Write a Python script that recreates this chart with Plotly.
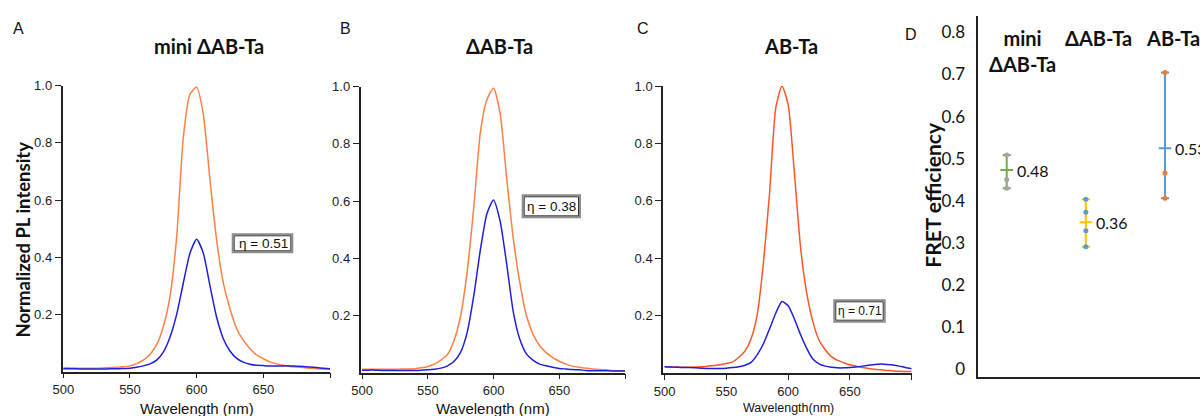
import plotly.graph_objects as go

# ---------------- data ----------------
WAVELENGTH = [500, 505, 510, 515, 520, 525, 530, 535, 540, 545,
              550, 555, 560, 565, 570, 575, 580, 585, 590, 595,
              600, 605, 610, 615, 620, 625, 630, 635, 640, 645,
              650, 655, 660, 665, 670, 675, 680, 685, 690, 695, 700]

A_orange = [.013, .013, .012, .012, .012, .012, .013, .014, .015, .017,
            .020, .028, .040, .060, .095, .157, .262, .470, .820, .970,
            .995, .900, .670, .460, .310, .220, .150, .110, .080, .058,
            .045, .034, .027, .022, .018, .016, .014, .012, .010, .009, .008]
A_blue = [.010, .010, .010, .009, .009, .009, .009, .010, .010, .011,
          .012, .015, .020, .027, .040, .068, .120, .200, .310, .414,
          .463, .414, .300, .190, .115, .072, .046, .033, .026, .022,
          .021, .020, .020, .020, .020, .019, .018, .016, .014, .012, .010]

B_orange = [.012, .012, .012, .012, .012, .012, .013, .013, .014, .017,
            .022, .030, .044, .064, .113, .200, .355, .580, .840, .955,
            .995, .907, .680, .470, .315, .200, .135, .095, .070, .053,
            .040, .030, .023, .019, .016, .013, .011, .010, .008, .007, .006]
B_blue = [.009, .009, .009, .008, .008, .008, .008, .008, .008, .009,
          .010, .012, .016, .024, .040, .072, .142, .270, .430, .557,
          .604, .530, .380, .213, .117, .066, .044, .030, .024, .019,
          .015, .013, .011, .010, .008, .007, .007, .007, .006, .006, .006]

C_orange = [.023, .022, .022, .021, .021, .022, .023, .025, .027, .030,
            .034, .040, .055, .077, .120, .205, .385, .630, .925, 1.00,
            .935, .700, .440, .280, .180, .115, .082, .058, .045, .037,
            .030, .025, .020, .017, .014, .012, .010, .008, .007, .006, .006]
C_blue = [.023, .022, .021, .020, .020, .019, .018, .017, .017, .017,
          .018, .020, .023, .028, .038, .065, .103, .155, .210, .250,
          .235, .190, .135, .087, .050, .033, .025, .021, .019, .019,
          .020, .022, .025, .028, .031, .032, .031, .029, .025, .020, .016]

PANEL_TITLES = ["mini ΔAB-Ta", "ΔAB-Ta", "AB-Ta"]
ETA_LABELS = ["η = 0.51", "η = 0.38", "η = 0.71"]
X_TICKS = [500, 550, 600, 650, 700]
X_TICK_TEXT = ["500", "550", "600", "650", ""]
Y_TICKS = [0.2, 0.4, 0.6, 0.8, 1.0]
Y_TICK_TEXT = ["0.2", "0.4", "0.6", "0.8", "1.0"]

FRET_CATEGORIES = ["mini ΔAB-Ta", "ΔAB-Ta", "AB-Ta"]
FRET_HEADERS = ["mini<br>ΔAB-Ta", "ΔAB-Ta", "AB-Ta"]
FRET_MEAN = [0.473, 0.349, 0.525]
FRET_MEAN_TEXT = ["0.48", "0.36", "0.53"]
FRET_POINTS = [[0.509, 0.451, 0.430],
               [0.404, 0.373, 0.329, 0.291],
               [0.705, 0.466, 0.406]]
FRET_TICKS = [0, 0.1, 0.2, 0.3, 0.4, 0.5, 0.6, 0.7, 0.8]
FRET_TICK_TEXT = ["0", "0.1", "0.2", "0.3", "0.4", "0.5", "0.6", "0.7", "0.8"]

# ---------------- styles ----------------
W, H = 1200, 416
ORANGE = ["#FF7F45", "#FF7F45", "#FF5522"]
BLUE = "#1E1EDC"
BAR_COLORS = ["#70AD47", "#FFC000", "#5B9BD5"]
POINT_COLORS = ["#A5A5A5", "#5B9BD5", "#ED7D31"]
CAL = "Lato, 'Open Sans', sans-serif"
ARIAL = "'Liberation Sans', Arial, sans-serif"


def fx(p):
    return p / W


def fy(p):
    return 1 - p / H


fig = go.Figure()

spectra = [(A_orange, A_blue), (B_orange, B_blue), (C_orange, C_blue)]
for i, (orng, blu) in enumerate(spectra):
    ax = "" if i == 0 else str(i + 1)
    fig.add_trace(go.Scatter(x=WAVELENGTH, y=orng, mode="lines",
                             line=dict(color=ORANGE[i], width=1.5, shape="spline", smoothing=0.6),
                             xaxis="x" + ax, yaxis="y" + ax, showlegend=False))
    fig.add_trace(go.Scatter(x=WAVELENGTH, y=blu, mode="lines",
                             line=dict(color=BLUE, width=1.5, shape="spline", smoothing=0.6),
                             xaxis="x" + ax, yaxis="y" + ax, showlegend=False))

# panel D: range bars + mean ticks + individual points
for i, cat in enumerate(FRET_CATEGORIES):
    pts = FRET_POINTS[i]
    m = FRET_MEAN[i]
    fig.add_trace(go.Scatter(
        x=[cat], y=[m], mode="markers",
        marker=dict(symbol="line-ew", size=9, line=dict(color=BAR_COLORS[i], width=2)),
        error_y=dict(type="data", symmetric=False, array=[max(pts) - m],
                     arrayminus=[m - min(pts)], color=BAR_COLORS[i], thickness=2, width=4),
        xaxis="x4", yaxis="y4", showlegend=False))
    fig.add_trace(go.Scatter(
        x=[cat] * len(pts), y=pts, mode="markers",
        marker=dict(symbol="circle", size=5, color=POINT_COLORS[i]),
        xaxis="x4", yaxis="y4", showlegend=False))

axis_common = dict(showgrid=False, zeroline=False, showline=True, linecolor="#222",
                   linewidth=1.5, ticks="outside", tickcolor="#222", tickwidth=1,
                   automargin=False,
                   tickfont=dict(family=ARIAL, size=13, color="#222"))

x_domains = [(62.5, 330), (360.5, 625), (663, 911.7)]
x_ranges = [(499.4, 700), (498.8, 700), (498.7, 700)]
y_bottoms = [371.6, 372.7, 373.3]
y_tops = [85.7, 86.7, 86.0]

layout = dict(template="none", width=W, height=H, margin=dict(l=0, r=0, t=0, b=0, pad=0),
              paper_bgcolor="white", plot_bgcolor="white", showlegend=False)

for i in range(3):
    ax = "" if i == 0 else str(i + 1)
    layout["xaxis" + ax] = dict(axis_common, domain=[fx(x_domains[i][0]), fx(x_domains[i][1])],
                                range=list(x_ranges[i]), tickvals=X_TICKS, ticktext=X_TICK_TEXT,
                                ticklen=5, anchor="y" + ax)
    layout["yaxis" + ax] = dict(axis_common, domain=[fy(y_bottoms[i]), fy(y_tops[i])],
                                range=[0, 1.0], tickvals=Y_TICKS, ticktext=Y_TICK_TEXT,
                                ticklen=6, anchor="x" + ax)

# panel D axes
d_left, d_right = 978.3, 1200
d_step = 79.15
d_first = 1006.7
layout["xaxis4"] = dict(domain=[fx(d_left), 1.0], type="category",
                        categoryorder="array", categoryarray=FRET_CATEGORIES,
                        range=[-(d_first - d_left) / d_step, (d_right - d_first) / d_step],
                        showgrid=False, zeroline=False, showline=True, linecolor="#222",
                        linewidth=1.5, showticklabels=False, ticks="", automargin=False,
                        anchor="y4")
layout["yaxis4"] = dict(domain=[fy(376.7), fy(16)],
                        range=[-0.0176, 0.839], tickvals=FRET_TICKS, ticktext=FRET_TICK_TEXT,
                        showgrid=False, zeroline=False, showline=True, linecolor="#222",
                        linewidth=1.5, ticks="", ticklabelstandoff=8, automargin=False,
                        tickfont=dict(family=CAL, size=17, color="#111"), anchor="x4")

fig.update_layout(**layout)

ann = []
shapes = []
# panel letters
for letter, x, y in [("A", 18.8, 28.3), ("B", 345.3, 28.3), ("C", 642.5, 28.3), ("D", 910.5, 34.3)]:
    ann.append(dict(text=letter, x=fx(x), y=fy(y), xref="paper", yref="paper",
                    showarrow=False, xanchor="center", yanchor="middle",
                    font=dict(family=ARIAL, size=16, color="#111")))
# panel titles
for t, x in zip(PANEL_TITLES, [209, 499.5, 790.7]):
    ann.append(dict(text="<b>" + t + "</b>", x=fx(x), y=fy(46), xref="paper", yref="paper",
                    showarrow=False, xanchor="center", yanchor="middle",
                    font=dict(family=CAL, size=20, color="#111")))
# eta boxes (double frame: grey outer, dark inner)
eta_boxes = [(231.7, 293.3, 233.3, 253.3), (521.7, 581.0, 194.3, 218.3), (833.3, 885.7, 299.3, 322.7)]
for t, (x0, x1, y0, y1), sz in zip(ETA_LABELS, eta_boxes, [13.5, 13.5, 12]):
    shapes.append(dict(type="rect", xref="paper", yref="paper",
                       x0=fx(x0 + 1), x1=fx(x1 - 1), y0=fy(y1 - 1), y1=fy(y0 + 1),
                       line=dict(color="#8C8C8C", width=2), fillcolor="white"))
    shapes.append(dict(type="rect", xref="paper", yref="paper",
                       x0=fx(x0 + 2.5), x1=fx(x1 - 2.5), y0=fy(y1 - 2.5), y1=fy(y0 + 2.5),
                       line=dict(color="#333", width=1)))
    ann.append(dict(text=t, x=fx((x0 + x1) / 2 + 0.5), y=fy((y0 + y1) / 2), xref="paper", yref="paper",
                    showarrow=False, xanchor="center", yanchor="middle",
                    font=dict(family=ARIAL, size=sz, color="#111")))
# x-axis titles
for t, x, sz in [("Wavelength (nm)", 196.5, 15), ("Wavelength (nm)", 493, 15), ("Wavelength(nm)", 788, 12.5)]:
    ann.append(dict(text=t, x=fx(x), y=fy(408), xref="paper", yref="paper",
                    showarrow=False, xanchor="center", yanchor="middle",
                    font=dict(family=ARIAL, size=sz, color="#111")))
# y-axis titles
ann.append(dict(text="<b>Normalized PL intensity</b>", x=fx(22.5), y=fy(240), xref="paper", yref="paper",
                showarrow=False, textangle=-90, xanchor="center", yanchor="middle",
                font=dict(family=CAL, size=18.5, color="#111")))
ann.append(dict(text="<b>FRET efficiency</b>", x=fx(931.7), y=fy(195), xref="paper", yref="paper",
                showarrow=False, textangle=-90, xanchor="center", yanchor="middle",
                font=dict(family=CAL, size=21, color="#111")))
# panel D column headers
for i, (h, xs, yy) in enumerate(zip(FRET_HEADERS, [16, 13, 8], [24, 24, 24])):
    ann.append(dict(text="<b>" + h + "</b>", x=FRET_CATEGORIES[i], y=fy(yy), xref="x4", yref="paper",
                    xshift=xs, showarrow=False, xanchor="center", yanchor="top", align="center",
                    font=dict(family=CAL, size=20, color="#111")))
# panel D mean labels
for i, t in enumerate(FRET_MEAN_TEXT):
    ann.append(dict(text=t, x=FRET_CATEGORIES[i], y=FRET_MEAN[i], xref="x4", yref="y4",
                    xshift=8, showarrow=False, xanchor="left", yanchor="middle",
                    font=dict(family=CAL, size=16, color="#111")))

fig.update_layout(annotations=ann, shapes=shapes)
fig.write_html("out.html", config={"displayModeBar": False},
               post_script="document.body.style.margin='0';document.body.style.overflow='hidden';")
